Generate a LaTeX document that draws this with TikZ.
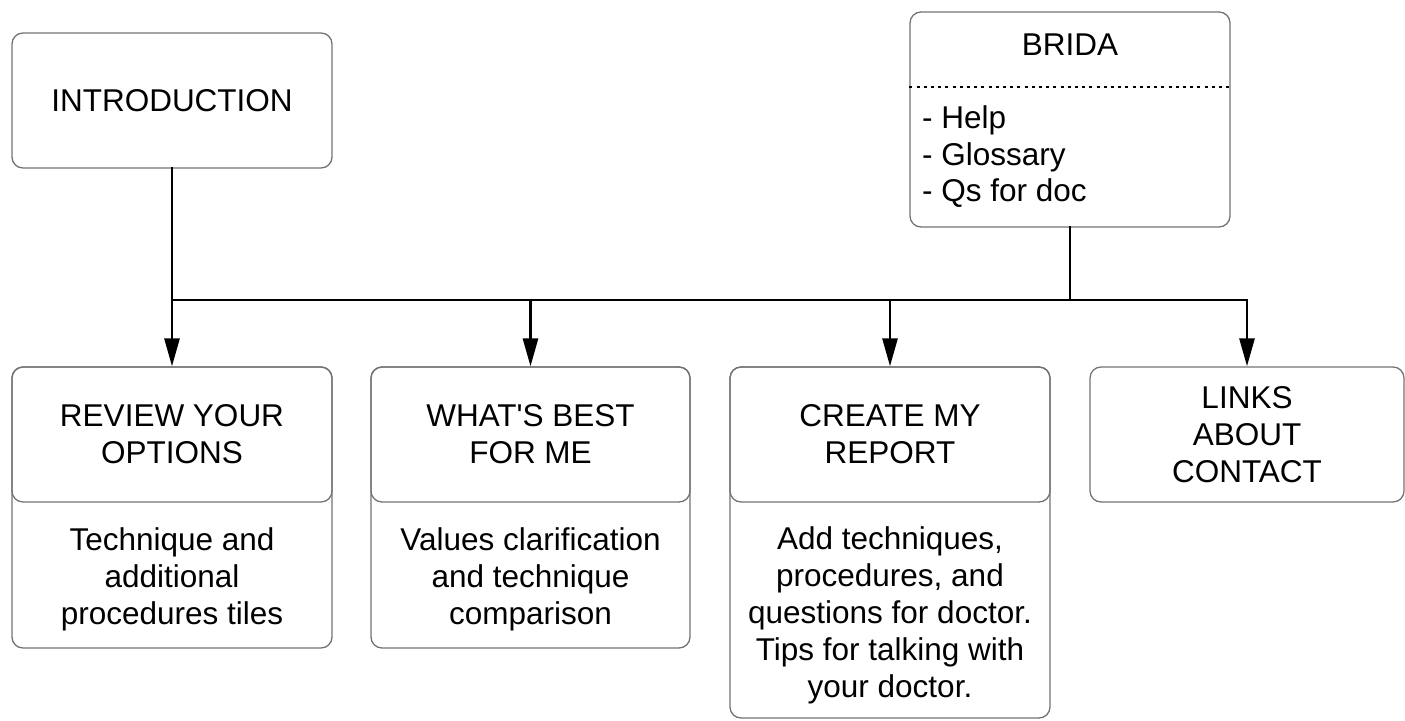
\documentclass[tikz,border=0pt]{standalone}
\usepackage{fontspec}
\setmainfont{Liberation Sans}
\usetikzlibrary{arrows.meta}
\definecolor{boxgray}{RGB}{115,115,115}
\begin{document}
\begin{tikzpicture}[x=1pt,y=-1pt,
  box/.style={draw=boxgray, line width=1.3pt, rounded corners=11pt, inner sep=0pt},
  conn/.style={line width=2.8pt, line cap=rect},
  arr/.style={line width=2.8pt, -{Triangle[length=28pt,width=15pt]}},
  txt/.style={font=\fontsize{31.5}{37}\selectfont, align=center, inner sep=0pt},
  sep/.style={line width=1.6pt, dash pattern=on 3pt off 4.2pt}
]
\useasboundingbox (0,0) rectangle (1405,720);

% top boxes
\node[box, txt, minimum width=320pt, minimum height=135pt] (intro) at (172,100.5) {INTRODUCTION};

\node[box, minimum width=320pt, minimum height=215pt] (brida) at (1070,119.5) {};
\node[txt] (bridat) at (1070,45) {BRIDA};
\coordinate (sepy) at (0,87);
\draw[sep] (brida.west |- sepy) -- (brida.east |- sepy);
\node[txt, align=left, anchor=west, font=\fontsize{31.5}{36.5}\selectfont] (bridal) at (922,157) {- Help\\- Glossary\\- Qs for doc};

% lower boxes
\node[box, minimum width=320pt, minimum height=281pt] (review) at (172,507.5) {};
\node[box, txt, minimum width=320pt, minimum height=135pt, anchor=north] (reviewh) at (review.north) {REVIEW YOUR\\OPTIONS};
\node[txt] (reviewb) at (172,579) {Technique and\\additional\\procedures tiles};

\node[box, minimum width=319pt, minimum height=281pt] (what) at (530.5,507.5) {};
\node[box, txt, minimum width=319pt, minimum height=135pt, anchor=north] (whath) at (what.north) {WHAT\textquotesingle S BEST\\FOR ME};
\node[txt] (whatb) at (530.5,579) {Values clarification\\and technique\\comparison};

\node[box, minimum width=320pt, minimum height=351pt] (create) at (890,542.5) {};
\node[box, txt, minimum width=320pt, minimum height=135pt, anchor=north] (createh) at (create.north) {CREATE MY\\REPORT};
\node[txt] (createb) at (890,615) {Add techniques,\\procedures, and\\questions for doctor.\\Tips for talking with\\your doctor.};

\node[box, txt, minimum width=314pt, minimum height=135pt] (links) at (1247,434.5) {LINKS\\ABOUT\\CONTACT};

% connectors
\coordinate (bus) at (0,300);
\draw[conn] (intro.south) -- (intro.south |- bus) -- (links.north |- bus);
\draw[conn] (brida.south) -- (brida.south |- bus);
\draw[arr] (intro.south |- bus) -- (review.north);
\draw[arr] (what.north |- bus) -- (what.north);
\draw[arr] (create.north |- bus) -- (create.north);
\draw[arr] (links.north |- bus) -- (links.north);
\end{tikzpicture}
\end{document}
